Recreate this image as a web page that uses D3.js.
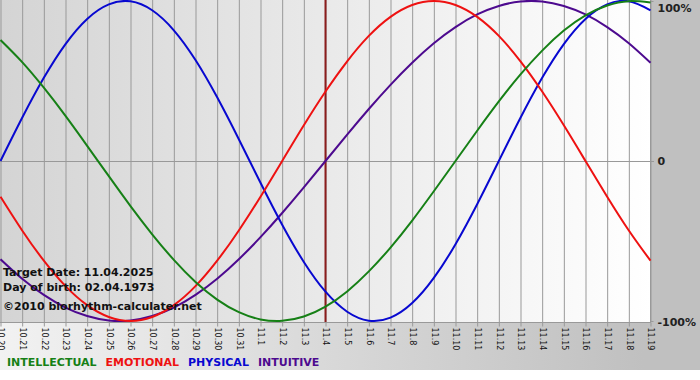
<!DOCTYPE html>
<html>
<head>
<meta charset="utf-8">
<script src="https://cdn.jsdelivr.net/npm/d3@7"></script>
<style>
  body { margin: 0; background: #fff; }
  text { font-family: "DejaVu Sans", Verdana, sans-serif; }
</style>
</head>
<body>
<div id="chart"></div>
<script>
const days = ["10.20", "10.21", "10.22", "10.23", "10.24", "10.25", "10.26", "10.27", "10.28", "10.29",
  "10.30", "10.31", "11.1", "11.2", "11.3", "11.4", "11.5", "11.6", "11.7", "11.8", "11.9",
  "11.10", "11.11", "11.12", "11.13", "11.14", "11.15", "11.16", "11.17", "11.18", "11.19"];

const intellectual = [75.6, 61.8, 45.8, 28.2, 9.5, -9.5, -28.2, -45.8, -61.8, -75.6, -86.6, -94.5,
  -99.0, -99.9, -97.2, -91.0, -81.5, -69.0, -54.1, -37.2, -18.9, 0, 18.9, 37.2, 54.1, 69.0,
  81.5, 91.0, 97.2, 99.9, 99.0];
const emotional = [-22.3, -43.4, -62.3, -78.2, -90.1, -97.5, -100, -97.5, -90.1, -78.2, -62.3,
  -43.4, -22.3, 0, 22.3, 43.4, 62.3, 78.2, 90.1, 97.5, 100, 97.5, 90.1, 78.2, 62.3, 43.4,
  22.3, 0, -22.3, -43.4, -62.3];
const physical = [0, 27.0, 52.0, 73.1, 88.8, 97.9, 99.8, 94.2, 81.7, 63.1, 39.8, 13.6, -13.6,
  -39.8, -63.1, -81.7, -94.2, -99.8, -97.9, -88.8, -73.1, -52.0, -27.0, 0, 27.0, 52.0, 73.1,
  88.8, 97.9, 99.8, 94.2];
const intuitive = [-61.4, -73.6, -83.7, -91.6, -96.9, -99.7, -99.7, -96.9, -91.6, -83.7, -73.6,
  -61.4, -47.6, -32.5, -16.5, 0, 16.5, 32.5, 47.6, 61.4, 73.6, 83.7, 91.6, 96.9, 99.7, 99.7,
  96.9, 91.6, 83.7, 73.6, 61.4];

const seriesNames = ["INTELLECTUAL", "EMOTIONAL", "PHYSICAL", "INTUITIVE"];
const yTicks = [100, 0, -100];
const yTickLabels = ["100%", "0", "-100%"];
const targetDay = "11.4";
const infoLines = ["Target Date: 11.04.2025", "Day of birth: 02.04.1973", "\u00a92010 biorhythm-calculater.net"];

const colors = {
  INTELLECTUAL: "#168016",
  EMOTIONAL: "#ee1111",
  PHYSICAL: "#0808d0",
  INTUITIVE: "#4d0a8f"
};
const values = {
  INTELLECTUAL: intellectual,
  EMOTIONAL: emotional,
  PHYSICAL: physical,
  INTUITIVE: intuitive
};

const width = 700, height = 380;
const plotW = 651, plotH = 322;

const svg = d3.select("#chart").append("svg")
  .attr("width", width)
  .attr("height", height);

const defs = svg.append("defs");
const bgGrad = defs.append("linearGradient").attr("id", "bgGrad");
bgGrad.append("stop").attr("offset", "0%").attr("stop-color", "#f2f2f2");
bgGrad.append("stop").attr("offset", "92%").attr("stop-color", "#c0c0c0");
bgGrad.append("stop").attr("offset", "100%").attr("stop-color", "#c0c0c0");
const plotGrad = defs.append("linearGradient").attr("id", "plotGrad");
plotGrad.append("stop").attr("offset", "0%").attr("stop-color", "#d4d4d4");
plotGrad.append("stop").attr("offset", "100%").attr("stop-color", "#ffffff");

svg.append("rect").attr("width", width).attr("height", 370).attr("fill", "url(#bgGrad)");
svg.append("rect").attr("width", plotW).attr("height", plotH).attr("fill", "url(#plotGrad)");

const x = d3.scaleLinear().domain([0, days.length - 1]).range([0.5, 650.5]);
const y = d3.scaleLinear().domain([-100, 100]).range([321, 1]);

// vertical grid
svg.append("g")
  .attr("transform", `translate(0,${plotH})`)
  .call(d3.axisBottom(x).tickValues(d3.range(days.length)).tickSize(-plotH).tickFormat(""))
  .call(g => g.select(".domain").remove())
  .call(g => g.selectAll("line").attr("stroke", "#999"));

// zero line
svg.append("line")
  .attr("x1", 0).attr("x2", plotW + 3)
  .attr("y1", Math.round(y(0)) + 0.5).attr("y2", Math.round(y(0)) + 0.5)
  .attr("stroke", "#999");

// bottom axis with rotated day labels
const xAxis = svg.append("g")
  .attr("transform", `translate(0,${plotH + 0.5})`)
  .call(d3.axisBottom(x).tickValues(d3.range(days.length)).tickSize(4).tickSizeOuter(0)
    .tickFormat(i => days[i]));
xAxis.select(".domain").attr("stroke", "#999").attr("d", `M0,0H${plotW}`);
xAxis.selectAll("line").attr("stroke", "#999");
xAxis.selectAll("text")
  .attr("transform", "rotate(90)")
  .attr("x", 5).attr("y", 0).attr("dy", "0.35em")
  .style("text-anchor", "start")
  .style("font-size", "8px")
  .attr("fill", "#111");

// right axis
const yAxis = svg.append("g")
  .attr("transform", `translate(${plotW - 0.5},0)`)
  .call(d3.axisRight(y).tickValues(yTicks).tickSize(3).tickSizeOuter(0)
    .tickFormat((d, i) => yTickLabels[i]));
yAxis.select(".domain").attr("stroke", "#999").attr("d", `M0,0V${plotH}`);
yAxis.selectAll("line").attr("stroke", "#999");
yAxis.selectAll("text")
  .attr("x", 7)
  .style("font-size", "11px")
  .style("font-weight", "bold")
  .attr("fill", "#222");
yAxis.selectAll(".tick").filter(d => d === 100).select("text").attr("dy", "0.95em");
yAxis.selectAll(".tick").filter(d => d === -100).select("text").attr("dy", "0.45em");

// target date marker
const ti = days.indexOf(targetDay);
svg.append("line")
  .attr("x1", x(ti)).attr("x2", x(ti))
  .attr("y1", 0).attr("y2", plotH)
  .attr("stroke", "#8b1c1c")
  .attr("stroke-width", 2);

const line = d3.line()
  .x((d, i) => x(i))
  .y(d => y(d))
  .curve(d3.curveNatural);

["INTUITIVE", "PHYSICAL", "EMOTIONAL", "INTELLECTUAL"].forEach(name => {
  svg.append("path")
    .datum(values[name])
    .attr("d", line)
    .attr("fill", "none")
    .attr("stroke", colors[name])
    .attr("stroke-width", 2);
});

const infoY = [276, 291, 310];
svg.selectAll("text.info")
  .data(infoLines)
  .enter()
  .append("text")
  .attr("class", "info")
  .attr("x", 3)
  .attr("y", (d, i) => infoY[i])
  .style("font-size", "11px")
  .style("font-weight", "bold")
  .attr("fill", "#111")
  .text(d => d);

// legend
let lx = 7;
seriesNames.forEach(name => {
  const t = svg.append("text")
    .attr("x", lx)
    .attr("y", 366)
    .style("font-size", "11px")
    .style("font-weight", "bold")
    .attr("fill", colors[name])
    .text(name);
  lx += t.node().getComputedTextLength() + 9;
});
</script>
</body>
</html>
